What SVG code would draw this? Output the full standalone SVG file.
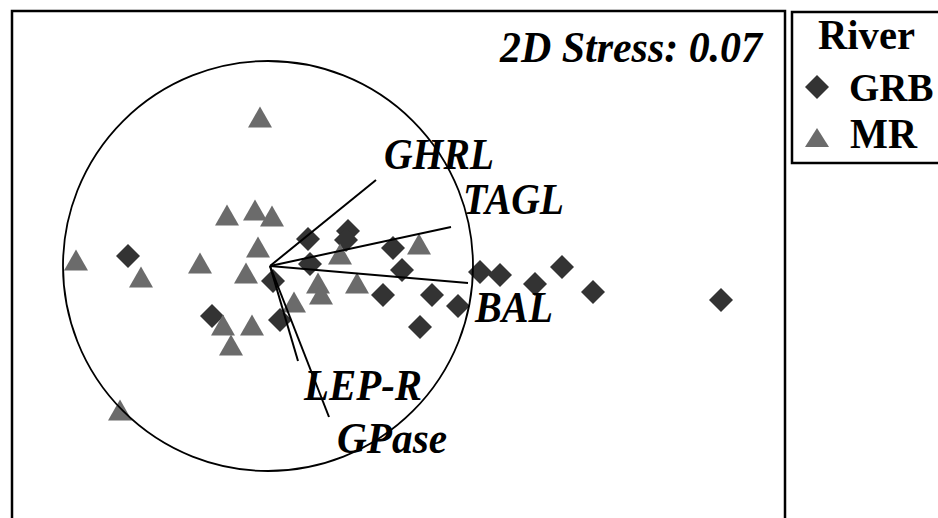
<svg xmlns="http://www.w3.org/2000/svg" xmlns:xlink="http://www.w3.org/1999/xlink" width="938" height="518" viewBox="0 0 938 518">
<style>
.frame{fill:none;stroke:#000;stroke-width:2.5}
.vec{stroke:#000;stroke-width:2;fill:none}
.circ{fill:none;stroke:#000;stroke-width:1.8}
.lbl{font-family:"Liberation Serif","Times New Roman",serif;font-weight:bold;font-style:italic;font-size:44px;fill:#000}
.leg{font-family:"Liberation Serif","Times New Roman",serif;font-weight:bold;font-size:42px;fill:#000}
.g{fill:#333333}
.m{fill:#6b6b6b}
</style>
<defs>
<path id="dia" d="M0,-12 L12,0 L0,12 L-12,0Z"/>
<path id="tri" d="M0,-10.5 L12,10.5 L-12,10.5Z"/>
</defs>
<rect x="0" y="0" width="938" height="518" fill="#fff"/>
<rect class="frame" x="12" y="11" width="773" height="520"/>
<rect class="frame" x="792" y="12" width="160" height="151"/>
<g id="points-GRB" class="g">
<use xlink:href="#dia" x="128" y="256"/>
<use xlink:href="#dia" x="308" y="239"/>
<use xlink:href="#dia" x="348" y="231"/>
<use xlink:href="#dia" x="346" y="240"/>
<use xlink:href="#dia" x="393" y="248"/>
<use xlink:href="#dia" x="310" y="264"/>
<use xlink:href="#dia" x="273" y="281"/>
<use xlink:href="#dia" x="402" y="270"/>
<use xlink:href="#dia" x="383" y="295"/>
<use xlink:href="#dia" x="432" y="295"/>
<use xlink:href="#dia" x="458" y="306"/>
<use xlink:href="#dia" x="420" y="327"/>
<use xlink:href="#dia" x="480" y="272"/>
<use xlink:href="#dia" x="500" y="275"/>
<use xlink:href="#dia" x="535" y="284"/>
<use xlink:href="#dia" x="562" y="267"/>
<use xlink:href="#dia" x="593" y="292"/>
<use xlink:href="#dia" x="721" y="300"/>
<use xlink:href="#dia" x="212" y="316"/>
<use xlink:href="#dia" x="280" y="320"/>
</g>
<g id="points-MR" class="m">
<use xlink:href="#tri" x="260" y="117"/>
<use xlink:href="#tri" x="227" y="215"/>
<use xlink:href="#tri" x="255" y="210"/>
<use xlink:href="#tri" x="272" y="216"/>
<use xlink:href="#tri" x="258" y="247"/>
<use xlink:href="#tri" x="419" y="244"/>
<use xlink:href="#tri" x="340" y="254"/>
<use xlink:href="#tri" x="76" y="260"/>
<use xlink:href="#tri" x="141" y="277"/>
<use xlink:href="#tri" x="200" y="263"/>
<use xlink:href="#tri" x="246" y="273"/>
<use xlink:href="#tri" x="318" y="283"/>
<use xlink:href="#tri" x="321" y="294"/>
<use xlink:href="#tri" x="357" y="283"/>
<use xlink:href="#tri" x="294" y="302"/>
<use xlink:href="#tri" x="223" y="325"/>
<use xlink:href="#tri" x="252" y="325"/>
<use xlink:href="#tri" x="231" y="345"/>
<use xlink:href="#tri" x="120" y="410"/>
</g>
<circle id="circle" class="circ" cx="268" cy="266" r="205"/>
<g id="connectors">
<line class="vec" x1="270" y1="266" x2="376" y2="180"/>
<line class="vec" x1="270" y1="266" x2="451" y2="227"/>
<line class="vec" x1="270" y1="266" x2="468" y2="283"/>
<line class="vec" x1="270" y1="266" x2="298" y2="361"/>
<line class="vec" x1="270" y1="266" x2="329" y2="417"/>
</g>
<g id="vector-labels">
<text class="lbl" x="384" y="169" textLength="110" lengthAdjust="spacingAndGlyphs">GHRL</text>
<text class="lbl" x="463" y="214" textLength="101" lengthAdjust="spacingAndGlyphs">TAGL</text>
<text class="lbl" x="475" y="322" textLength="78" lengthAdjust="spacingAndGlyphs">BAL</text>
<text class="lbl" x="304" y="400" textLength="118" lengthAdjust="spacingAndGlyphs">LEP-R</text>
<text class="lbl" x="337" y="453" textLength="110" lengthAdjust="spacingAndGlyphs">GPase</text>
</g>
<text id="stress" class="lbl" x="500" y="62" textLength="262" lengthAdjust="spacingAndGlyphs">2D Stress: 0.07</text>
<g id="legend">
<text class="leg" x="818" y="49" textLength="97" lengthAdjust="spacingAndGlyphs">River</text>
<use xlink:href="#dia" x="817" y="87" class="g"/>
<text class="leg" x="849" y="101" style="font-size:39px">GRB</text>
<path class="m" d="M817,128 L829,147 L805,147Z"/>
<text class="leg" x="850" y="148" textLength="67" lengthAdjust="spacingAndGlyphs">MR</text>
</g>
</svg>
